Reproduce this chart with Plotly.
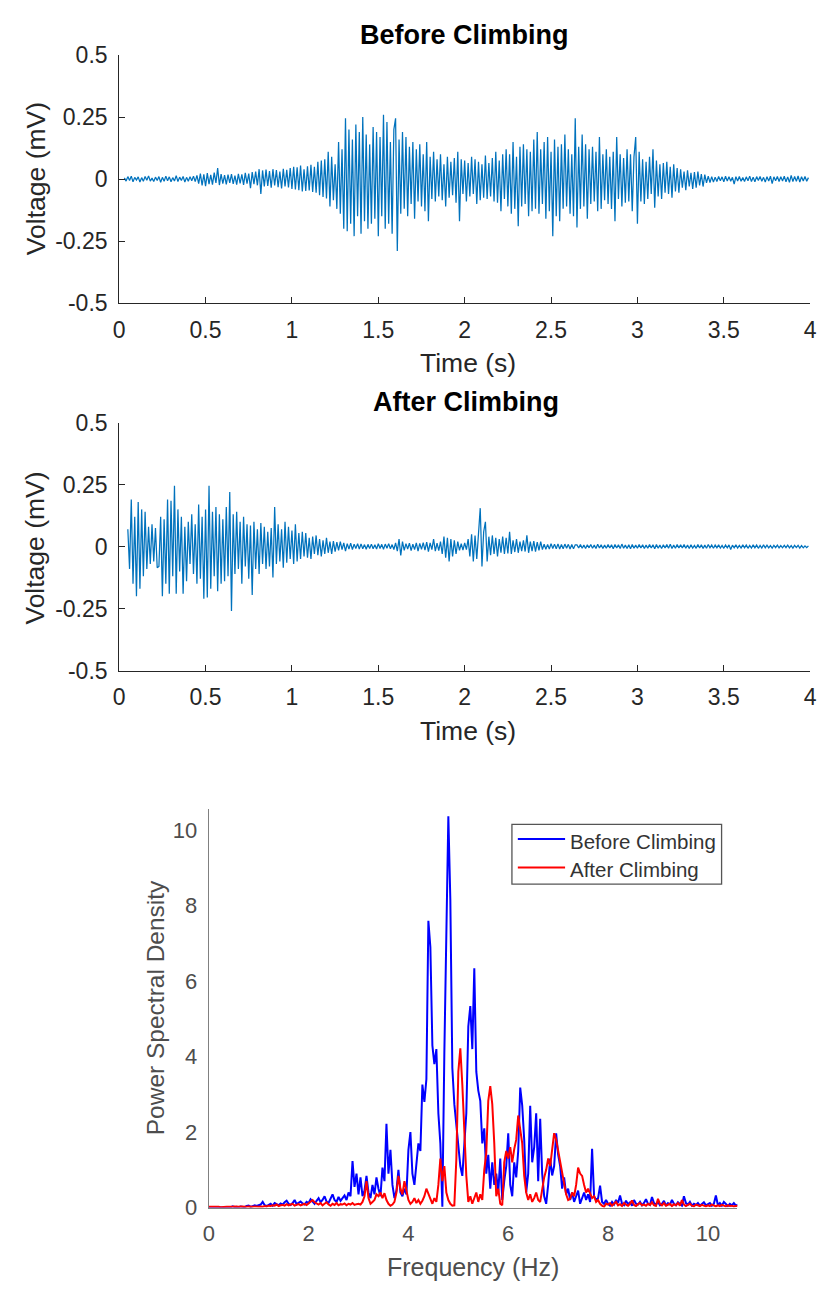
import plotly.graph_objects as go

# ---------------- data ----------------
SAMPLE_STEP_S = 0.01
BEFORE_T0 = 0.03
AFTER_T0 = 0.05

before_mv = [
    0.005, -0.008, 0.010, -0.006, 0.012, -0.011, 0.007, -0.004, 0.009, -0.012, 0.006, -0.009, 0.011, -0.005, 0.013, -0.008, 0.004, -0.010, 0.008, -0.006,
    0.010, -0.013, 0.007, -0.009, 0.012, -0.007, 0.009, -0.011, 0.006, -0.008, 0.014, -0.010, 0.008, -0.006, 0.011, -0.012, 0.007, -0.009, 0.010, -0.007,
    0.012, -0.010, 0.015, -0.018, 0.022, -0.025, 0.019, -0.028, 0.024, -0.020, 0.017, -0.022, 0.026, -0.015, 0.045, -0.024, 0.020, -0.018, 0.016, -0.021,
    0.018, -0.015, 0.020, -0.019, 0.014, -0.022, 0.021, -0.017, 0.019, -0.023, 0.025, -0.018, 0.022, -0.037, 0.028, -0.020, 0.030, -0.025, 0.040, -0.060,
    0.035, -0.030, 0.038, -0.028, 0.032, -0.035, 0.040, -0.026, 0.036, -0.033, 0.030, -0.038, 0.042, -0.030, 0.037, -0.034, 0.045, -0.040, 0.050, -0.042,
    0.048, -0.045, 0.055, -0.050, 0.040, -0.048, 0.052, -0.046, 0.058, -0.052, 0.050, -0.055, 0.070, -0.065, 0.075, -0.072, 0.080, -0.078, 0.110, -0.110,
    0.090, -0.085, 0.060, -0.120, 0.150, -0.140, 0.120, -0.200, 0.245, -0.210, 0.200, -0.180, 0.160, -0.230, 0.220, -0.150, 0.190, -0.220, 0.250, -0.170,
    0.180, -0.200, 0.140, -0.180, 0.210, -0.160, 0.190, -0.230, 0.170, -0.150, 0.260, -0.200, 0.230, -0.180, 0.150, -0.220, 0.200, 0.245, -0.290, 0.160,
    -0.140, 0.190, -0.120, 0.170, -0.150, 0.130, -0.100, 0.150, -0.160, 0.120, -0.090, 0.140, -0.110, 0.100, -0.130, 0.150, -0.170, 0.090, -0.080, 0.110,
    -0.090, 0.080, -0.070, 0.100, -0.085, 0.060, -0.110, 0.090, -0.075, 0.070, -0.065, 0.085, -0.095, 0.110, -0.170, 0.080, -0.060, 0.075, -0.090, 0.065,
    -0.070, 0.090, -0.060, 0.080, -0.100, 0.070, -0.085, 0.060, -0.075, 0.095, -0.080, 0.065, -0.070, 0.085, -0.090, 0.110, -0.095, 0.075, -0.130, 0.100,
    -0.080, 0.120, -0.110, 0.100, -0.140, 0.150, -0.120, 0.090, -0.190, 0.130, -0.110, 0.140, -0.100, 0.120, -0.150, 0.110, -0.130, 0.160, -0.120, 0.190,
    -0.140, 0.120, -0.100, 0.150, -0.160, 0.170, -0.130, 0.110, -0.230, 0.160, -0.150, 0.130, -0.170, 0.140, -0.120, 0.180, -0.110, 0.120, -0.140, 0.100,
    -0.150, 0.245, -0.195, 0.130, -0.120, 0.180, -0.110, 0.140, -0.160, 0.120, -0.100, 0.130, -0.090, 0.110, -0.130, 0.170, -0.120, 0.100, -0.085, 0.120,
    -0.100, 0.090, -0.120, 0.110, -0.170, 0.170, -0.080, 0.100, -0.110, 0.085, -0.095, 0.120, -0.090, 0.100, -0.130, 0.090, 0.170, -0.180, 0.110, -0.090,
    0.080, -0.100, 0.070, -0.080, 0.090, -0.060, 0.120, -0.115, 0.075, -0.070, 0.060, -0.080, 0.065, -0.055, 0.070, -0.060, 0.050, -0.075, 0.060, -0.050,
    0.045, -0.055, 0.040, -0.035, 0.030, -0.045, 0.035, -0.030, 0.025, -0.040, 0.028, -0.035, 0.030, -0.025, 0.020, -0.030, 0.018, -0.015, 0.012, -0.014,
    0.010, -0.012, 0.008, -0.010, 0.011, -0.007, 0.009, -0.011, 0.012, -0.008, 0.010, -0.009, 0.007, -0.020, 0.010, -0.008, 0.011, -0.009, 0.006, -0.010,
    0.009, -0.007, 0.012, -0.010, 0.008, -0.011, 0.010, -0.006, 0.011, -0.009, 0.007, -0.012, 0.010, -0.008, 0.012, -0.018, 0.009, -0.007, 0.011, -0.010,
    0.010, -0.008, 0.012, -0.011, 0.009, -0.013, 0.015, -0.010, 0.011, -0.009, 0.013, -0.012, 0.010, -0.008, 0.011, -0.009, 0.006,
]

after_mv = [
    0.070, -0.090, 0.190, -0.150, 0.120, -0.200, 0.180, -0.170, 0.150, -0.120, 0.140, -0.090, 0.080, -0.070, 0.090, -0.060, 0.075, -0.085, -0.080, 0.120,
    -0.200, 0.110, -0.150, 0.190, -0.190, 0.185, -0.120, 0.245, -0.190, 0.150, -0.100, 0.120, -0.190, 0.080, -0.140, 0.100, -0.070, 0.130, -0.110, 0.090,
    -0.150, 0.170, -0.130, 0.120, -0.210, 0.150, -0.205, 0.245, -0.170, 0.140, -0.120, 0.160, -0.180, 0.130, -0.150, 0.110, -0.140, 0.160, -0.120, 0.220,
    -0.260, 0.130, -0.110, 0.140, -0.090, 0.100, -0.150, 0.120, -0.080, 0.090, -0.130, 0.085, -0.195, 0.100, -0.090, 0.070, -0.110, 0.095, -0.070, 0.080,
    -0.090, 0.060, -0.080, 0.075, -0.125, 0.160, -0.070, 0.090, -0.060, 0.070, -0.085, 0.100, -0.065, 0.080, -0.050, 0.065, -0.070, 0.090, -0.060, 0.055,
    -0.050, 0.060, -0.040, 0.055, -0.045, 0.035, -0.050, 0.040, -0.030, 0.045, -0.035, 0.030, -0.040, 0.025, -0.030, 0.035, -0.025, 0.020, -0.030, 0.022,
    -0.020, 0.018, -0.015, 0.020, -0.012, 0.015, -0.018, 0.012, -0.010, 0.014, -0.012, 0.010, -0.008, 0.012, -0.010, 0.011, -0.009, 0.008, -0.011, 0.009,
    -0.008, 0.010, -0.009, 0.007, -0.010, 0.012, -0.008, 0.009, -0.011, 0.010, -0.007, 0.012, -0.009, 0.008, -0.012, 0.015, -0.018, 0.030, -0.036, 0.020,
    -0.015, 0.012, -0.010, 0.014, -0.016, 0.010, -0.012, 0.015, -0.018, 0.013, -0.011, 0.016, -0.014, 0.018, -0.020, 0.015, -0.012, 0.030, -0.018, 0.014,
    -0.016, 0.020, -0.030, 0.040, -0.045, 0.035, -0.060, 0.030, -0.040, 0.025, -0.030, 0.020, -0.015, 0.012, -0.014, 0.015, -0.012, 0.030, -0.040, 0.050,
    -0.060, 0.045, -0.050, 0.040, 0.155, -0.080, 0.060, 0.100, -0.060, 0.040, -0.035, 0.045, -0.030, 0.035, -0.040, 0.030, -0.025, 0.040, -0.030, 0.035,
    -0.028, 0.060, -0.030, 0.025, -0.022, 0.030, -0.025, 0.020, -0.018, 0.025, -0.020, 0.045, -0.025, 0.020, -0.018, 0.022, -0.020, 0.018, -0.015, 0.020,
    -0.012, 0.010, -0.011, 0.009, -0.010, 0.012, -0.008, 0.010, -0.009, 0.011, -0.010, 0.008, -0.009, 0.010, -0.007, 0.009, -0.010, 0.008, -0.009, 0.007,
    0.007, -0.006, 0.008, -0.007, 0.006, -0.008, 0.007, -0.005, 0.008, -0.007, 0.006, -0.008, 0.009, -0.006, 0.007, -0.008, 0.006, -0.007, 0.008, -0.006,
    0.007, -0.009, 0.008, -0.006, 0.007, -0.008, 0.010, -0.007, 0.006, -0.008, 0.007, -0.009, 0.008, -0.007, 0.006, -0.007, 0.008, -0.006, 0.007, -0.008,
    0.006, -0.007, 0.008, -0.006, 0.007, -0.009, 0.008, -0.007, 0.006, -0.008, 0.007, -0.006, 0.008, -0.007, 0.009, -0.008, 0.006, -0.007, 0.008, -0.006,
    0.007, -0.006, 0.008, -0.007, 0.006, -0.008, 0.007, -0.006, 0.005, -0.007, 0.008, -0.006, 0.007, -0.008, 0.006, -0.007, 0.008, -0.005, 0.006, -0.007,
    0.006, -0.005, 0.007, -0.006, 0.005, -0.007, 0.006, -0.005, 0.007, -0.012, 0.006, -0.005, 0.007, -0.006, 0.005, -0.006, 0.007, -0.005, 0.006, -0.007,
    0.005, -0.006, 0.007, -0.005, 0.006, -0.007, 0.005, -0.006, 0.007, -0.005, 0.006, -0.005, 0.004, -0.006, 0.005, -0.004, 0.006, -0.005, 0.004, -0.005,
    0.005, -0.004, 0.006, -0.005, 0.004, -0.006, 0.005, -0.004, 0.005, -0.006, 0.004, -0.005, 0.003, -0.004, 0.003,
]

FREQ_STEP_HZ = 0.04

psd_before = [
    0.00, 0.00, 0.00, 0.00, 0.00, 0.00, 0.00, 0.00, 0.00, 0.00, 0.00, 0.01, 0.03, 0.01, 0.02, 0.01, 0.03, 0.02, 0.01, 0.04, 0.05, 0.02, 0.03, 0.06, 0.04,
    0.05, 0.08, 0.15, 0.06, 0.04, 0.07, 0.10, 0.05, 0.12, 0.09, 0.06, 0.11, 0.08, 0.14, 0.18, 0.10, 0.07, 0.12, 0.20, 0.09, 0.13, 0.16, 0.11, 0.08, 0.15,
    0.12, 0.22, 0.15, 0.10, 0.18, 0.25, 0.14, 0.20, 0.30, 0.16, 0.12, 0.22, 0.35, 0.20, 0.15, 0.28, 0.18, 0.25, 0.32, 0.20, 0.40, 0.30, 1.23, 0.55, 0.90,
    0.35, 0.80, 0.30, 0.45, 0.84, 0.40, 0.25, 0.60, 0.35, 0.80, 0.50, 0.30, 1.06, 0.70, 2.22, 0.90, 1.53, 0.60, 0.25, 0.45, 1.00, 0.40, 0.30, 0.50, 0.35,
    1.53, 2.00, 0.90, 0.60, 1.20, 1.70, 1.50, 3.26, 2.80, 3.40, 7.60, 6.90, 4.30, 3.80, 4.20, 2.50, 1.70, 0.02, 4.10, 7.25, 10.37, 8.16, 3.70, 2.74, 2.20,
    1.70, 1.10, 0.84, 1.70, 2.50, 4.80, 5.34, 4.20, 6.34, 3.60, 3.10, 2.83, 1.70, 2.10, 0.90, 1.40, 0.50, 1.20, 0.60, 0.90, 0.40, 1.30, 0.20, 0.70, 1.10,
    1.97, 0.60, 0.30, 1.20, 0.80, 1.50, 3.18, 2.70, 1.80, 0.40, 0.90, 2.70, 1.20, 1.60, 2.50, 0.70, 2.35, 0.90, 0.30, 0.10, 0.60, 1.30, 0.85, 1.10, 1.97,
    1.40, 1.10, 0.50, 0.80, 0.35, 0.50, 0.20, 0.40, 0.15, 0.30, 0.45, 0.10, 0.25, 0.40, 0.20, 0.35, 0.15, 1.56, 0.30, 0.20, 0.25, 0.58, 0.15, 0.10, 0.20,
    0.10, 0.05, 0.15, 0.08, 0.20, 0.12, 0.32, 0.10, 0.06, 0.18, 0.09, 0.14, 0.05, 0.20, 0.10, 0.08, 0.15, 0.06, 0.12, 0.22, 0.10, 0.07, 0.28, 0.12, 0.08,
    0.15, 0.06, 0.10, 0.18, 0.05, 0.12, 0.08, 0.20, 0.10, 0.06, 0.14, 0.09, 0.05, 0.30, 0.12, 0.08, 0.15, 0.05, 0.10, 0.07, 0.12, 0.05, 0.09, 0.14, 0.06,
    0.08, 0.12, 0.05, 0.10, 0.32, 0.07, 0.12, 0.05, 0.15, 0.08, 0.04, 0.10, 0.06, 0.12, 0.05, 0.08,
]

psd_after = [
    0.02, 0.03, 0.02, 0.02, 0.03, 0.02, 0.01, 0.02, 0.03, 0.02, 0.02, 0.01, 0.02, 0.03, 0.02, 0.02, 0.03, 0.02, 0.01, 0.02, 0.03, 0.02, 0.02, 0.03, 0.02,
    0.02, 0.03, 0.02, 0.04, 0.03, 0.05, 0.04, 0.06, 0.05, 0.08, 0.04, 0.06, 0.07, 0.05, 0.09, 0.06, 0.08, 0.10, 0.05, 0.07, 0.09, 0.06, 0.08, 0.10, 0.07,
    0.12, 0.15, 0.20, 0.14, 0.10, 0.08, 0.12, 0.06, 0.10, 0.14, 0.08, 0.05, 0.10, 0.07, 0.12, 0.06, 0.09, 0.08, 0.11, 0.06, 0.10, 0.08, 0.12, 0.07, 0.09,
    0.10, 0.08, 0.15, 0.30, 0.70, 0.25, 0.10, 0.15, 0.20, 0.35, 0.30, 0.40, 0.25, 0.38, 0.20, 0.10, 0.05, 0.08, 0.15, 0.40, 0.84, 0.50, 0.35, 0.70, 0.45,
    0.20, 0.10, 0.15, 0.25, 0.12, 0.20, 0.10, 0.18, 0.30, 0.50, 0.35, 0.20, 0.10, 0.25, 0.15, 0.60, 1.30, 0.70, 1.10, 0.40, 0.20, 0.10, 0.05, 0.06, 1.27,
    3.60, 4.22, 3.26, 2.05, 0.84, 0.15, 0.30, 0.10, 0.25, 0.40, 0.15, 0.35, 0.20, 1.00, 1.45, 2.83, 3.22, 2.74, 1.70, 0.30, 0.50, 0.10, 0.06, 1.20, 1.50,
    1.30, 1.60, 1.20, 1.55, 1.80, 2.44, 2.00, 1.70, 0.84, 0.40, 0.20, 0.35, 0.15, 0.25, 0.40, 0.20, 0.15, 0.50, 0.80, 1.00, 1.30, 1.10, 1.60, 1.97, 1.80,
    1.50, 1.27, 0.90, 0.67, 0.35, 0.20, 0.23, 0.40, 0.30, 0.60, 1.06, 0.90, 0.84, 0.60, 0.40, 0.50, 0.36, 0.25, 0.30, 0.15, 0.20, 0.10, 0.05, 0.02, 0.10,
    0.08, 0.12, 0.05, 0.10, 0.15, 0.06, 0.09, 0.04, 0.12, 0.08, 0.05, 0.10, 0.19, 0.07, 0.04, 0.09, 0.12, 0.06, 0.08, 0.05, 0.10, 0.07, 0.14, 0.06, 0.04,
    0.23, 0.10, 0.06, 0.12, 0.05, 0.08, 0.10, 0.04, 0.09, 0.06, 0.12, 0.05, 0.20, 0.08, 0.04, 0.07, 0.10, 0.05, 0.03, 0.08, 0.06, 0.04, 0.07, 0.05, 0.03,
    0.06, 0.04, 0.08, 0.05, 0.03, 0.06, 0.04, 0.07, 0.05, 0.03, 0.06, 0.04, 0.05, 0.03, 0.04, 0.05,
]

time_ticks = [0, 0.5, 1, 1.5, 2, 2.5, 3, 3.5, 4]
time_tick_text = ["0", "0.5", "1", "1.5", "2", "2.5", "3", "3.5", "4"]
volt_ticks = [-0.5, -0.25, 0, 0.25, 0.5]
volt_tick_text = ["-0.5", "-0.25", "0", "0.25", "0.5"]
freq_ticks = [0, 2, 4, 6, 8, 10]
psd_ticks = [0, 2, 4, 6, 8, 10]

t_before = [round(BEFORE_T0 + SAMPLE_STEP_S * i, 3) for i in range(len(before_mv))]
t_after = [round(AFTER_T0 + SAMPLE_STEP_S * i, 3) for i in range(len(after_mv))]
freqs_before = [round(FREQ_STEP_HZ * i, 3) for i in range(len(psd_before))]
freqs_after = [round(FREQ_STEP_HZ * i, 3) for i in range(len(psd_after))]

# ---------------- layout helpers ----------------
W, H = 828, 1297


def px(x):
    return x / W


def py(y):
    return 1 - y / H


FONT = "Liberation Sans, Arial, Helvetica, sans-serif"
DARK = "#262626"
GRAY_LINE = "#808080"
GRAY_TEXT = "#4d4d4d"
SIG_COLOR = "#0072BD"

fig = go.Figure()
fig.add_trace(go.Scatter(x=t_before, y=before_mv, mode="lines",
                         line=dict(color=SIG_COLOR, width=1.25), xaxis="x", yaxis="y",
                         showlegend=False))
fig.add_trace(go.Scatter(x=t_after, y=after_mv, mode="lines",
                         line=dict(color=SIG_COLOR, width=1.25), xaxis="x2", yaxis="y2",
                         showlegend=False))
fig.add_trace(go.Scatter(x=freqs_before, y=psd_before, mode="lines", name="Before Climbing",
                         line=dict(color="#0000FF", width=2), xaxis="x3", yaxis="y3",
                         showlegend=False))
fig.add_trace(go.Scatter(x=freqs_after, y=psd_after, mode="lines", name="After Climbing",
                         line=dict(color="#FF0000", width=2), xaxis="x3", yaxis="y3",
                         showlegend=False))

tick_font = dict(family=FONT, size=23, color=DARK)
common_x = dict(range=[0, 4], tickvals=time_ticks, ticktext=time_tick_text, ticks="inside",
                ticklen=6, tickcolor=DARK, showline=True, linecolor=DARK, linewidth=1,
                showgrid=False, zeroline=False, tickfont=tick_font, ticklabelstandoff=6)
common_y = dict(range=[-0.5, 0.5], tickvals=volt_ticks, ticktext=volt_tick_text, ticks="inside",
                ticklen=6, tickcolor=DARK, showline=True, linecolor=DARK, linewidth=1,
                showgrid=False, zeroline=False, tickfont=tick_font, ticklabelstandoff=6)

fig.update_layout(
    width=W, height=H, autosize=False,
    margin=dict(l=0, r=0, t=0, b=0, pad=0),
    paper_bgcolor="white", plot_bgcolor="white",
    font=dict(family=FONT, color=DARK),
    xaxis=dict(domain=[px(115), px(817)], anchor="y", **common_x),
    yaxis=dict(domain=[py(296), py(43)], anchor="x", **common_y),
    xaxis2=dict(domain=[px(115), px(817)], anchor="y2", **common_x),
    yaxis2=dict(domain=[py(671), py(418)], anchor="x2", **common_y),
    xaxis3=dict(domain=[px(206), px(743)], anchor="y3", range=[0, 10.59], tickvals=freq_ticks,
                ticks="", showline=True, linecolor=GRAY_LINE, linewidth=1.3, showgrid=False,
                zeroline=False, tickfont=dict(family=FONT, size=22, color=GRAY_TEXT),
                ticklabelstandoff=6),
    yaxis3=dict(domain=[py(1219), py(812)], anchor="x3", range=[0, 10.57], tickvals=psd_ticks,
                ticks="", showline=True, linecolor=GRAY_LINE, linewidth=1.3, showgrid=False,
                zeroline=False, tickfont=dict(family=FONT, size=22, color=GRAY_TEXT),
                ticklabelstandoff=6),
)

annotations = [
    dict(text="<b>Before Climbing</b>", x=px(466), y=py(22), size=27, color="#000000"),
    dict(text="<b>After Climbing</b>", x=px(467), y=py(397), size=27, color="#000000"),
    dict(text="Time (s)", x=px(469), y=py(357), size=26.5, color=DARK),
    dict(text="Time (s)", x=px(469), y=py(733), size=26.5, color=DARK),
    dict(text="Voltage (mV)", x=px(30), y=py(169), size=26.5, color=DARK, angle=-90),
    dict(text="Voltage (mV)", x=px(30), y=py(546), size=26.5, color=DARK, angle=-90),
    dict(text="Power Spectral Density", x=px(152), y=py(1015), size=24.5, color=GRAY_TEXT, angle=-90),
    dict(text="Frequency (Hz)", x=px(474), y=py(1280), size=25, color=GRAY_TEXT),
]
for a in annotations:
    fig.add_annotation(text=a["text"], x=a["x"], y=a["y"], xref="paper", yref="paper",
                       xanchor="center", yanchor="middle", showarrow=False,
                       textangle=a.get("angle", 0),
                       font=dict(family=FONT, size=a["size"], color=a["color"]))

# custom legend box (matches the MATLAB-style legend)
fig.add_shape(type="rect", xref="paper", yref="paper", x0=px(514), x1=px(727), y0=py(889), y1=py(828),
              line=dict(color="#555555", width=1.3), fillcolor="white")
legend_items = [("Before Climbing", "#0000FF", 843), ("After Climbing", "#FF0000", 872)]
for label, color, yy in legend_items:
    fig.add_shape(type="line", xref="paper", yref="paper", x0=px(520), x1=px(568), y0=py(yy), y1=py(yy),
                  line=dict(color=color, width=2))
    fig.add_annotation(text=label, x=px(571), y=py(yy + 2), xref="paper", yref="paper",
                       xanchor="left", yanchor="middle", showarrow=False,
                       font=dict(family=FONT, size=20.5, color="#333333"))

PAGE_FIX = ("document.documentElement.style.margin='0';document.body.style.margin='0';"
            "document.body.style.padding='0';document.documentElement.style.overflow='hidden';"
            "document.body.style.overflow='hidden';")
fig.write_html("out.html", post_script=PAGE_FIX, config={"displayModeBar": False})
